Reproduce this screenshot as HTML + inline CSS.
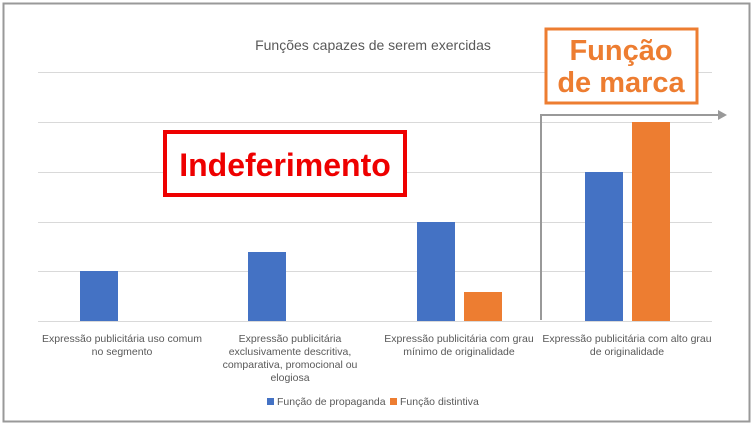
<!DOCTYPE html><html><head><style>body{margin:0;background:#fff}svg{display:block}text{font-family:"Liberation Sans",sans-serif}</style></head><body>
<svg width="754" height="426" viewBox="0 0 754 426">
<rect x="3.5" y="3.5" width="746" height="418" fill="#fff" stroke="#999" stroke-width="2"/>
<g stroke="#d9d9d9" stroke-width="1">
<line x1="38" x2="712" y1="72.5" y2="72.5"/><line x1="38" x2="712" y1="122.5" y2="122.5"/><line x1="38" x2="712" y1="172.5" y2="172.5"/><line x1="38" x2="712" y1="222.5" y2="222.5"/><line x1="38" x2="712" y1="271.5" y2="271.5"/><line x1="38" x2="712" y1="321.5" y2="321.5"/></g>
<text x="373" y="50" text-anchor="middle" font-size="14" fill="#595959">Funções capazes de serem exercidas</text>
<g fill="#4472c4"><rect x="80" y="271" width="38" height="50"/><rect x="248" y="252" width="38" height="69"/><rect x="417" y="222" width="38" height="99"/><rect x="585" y="172" width="38" height="149"/></g>
<g fill="#ed7d31"><rect x="464" y="292" width="38" height="29"/><rect x="632" y="122" width="38" height="199"/></g>
<g font-size="10.5" fill="#595959" text-anchor="middle">
<text x="122" y="342">Expressão publicitária uso comum</text><text x="122" y="355">no segmento</text>
<text x="290" y="342">Expressão publicitária</text><text x="290" y="355">exclusivamente descritiva,</text><text x="290" y="368">comparativa, promocional ou</text><text x="290" y="381">elogiosa</text>
<text x="459" y="342">Expressão publicitária com grau</text><text x="459" y="355">mínimo de originalidade</text>
<text x="627" y="342">Expressão publicitária com alto grau</text><text x="627" y="355">de originalidade</text></g>
<g font-size="10.5" fill="#595959">
<rect x="267" y="398" width="7" height="7" fill="#4472c4"/><text x="277" y="405">Função de propaganda</text>
<rect x="390" y="398" width="7" height="7" fill="#ed7d31"/><text x="400" y="405">Função distintiva</text></g>
<polyline points="541,320 541,115 718,115" fill="none" stroke="#999" stroke-width="2"/>
<polygon points="718,110 727,115 718,120" fill="#999"/>
<rect x="165" y="132" width="240" height="63" fill="#fff" stroke="#e00" stroke-width="4"/>
<text x="285" y="176" text-anchor="middle" font-size="32" font-weight="bold" fill="#e00">Indeferimento</text>
<rect x="546" y="29" width="151" height="74" fill="#fff" stroke="#ed7d31" stroke-width="3"/>
<text x="621" y="60" text-anchor="middle" font-size="29" font-weight="bold" fill="#ed7d31">Função</text>
<text x="621" y="92" text-anchor="middle" font-size="29" font-weight="bold" fill="#ed7d31">de marca</text>
</svg></body></html>
